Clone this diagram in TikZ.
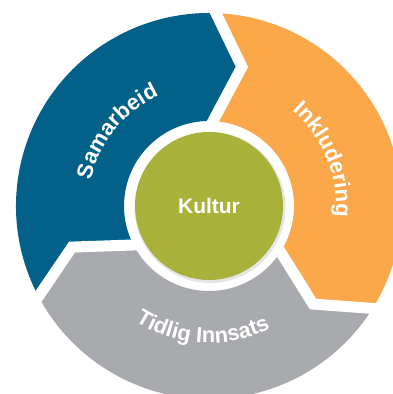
\documentclass[tikz,border=0pt]{standalone}
\usepackage{fontspec}
\setmainfont{Liberation Sans}
\usetikzlibrary{positioning,decorations.text}

\definecolor{sambla}{RGB}{3,97,137}
\definecolor{inkora}{RGB}{250,168,74}
\definecolor{tidgra}{RGB}{168,170,173}
\definecolor{kulgrn}{RGB}{169,177,59}

\begin{document}
\begin{tikzpicture}[x=1pt, y=1pt,
        gap/.style={draw=white, line width=11pt, line join=miter},
        ringtext/.style={decorate, decoration={text along path, text align=center, text color=white,
            text={|\bfseries\fontsize{22}{26}\selectfont|#1}}},
        kultur/.style={circle, fill=kulgrn, minimum size=148pt, inner sep=0pt, text=white,
            font=\bfseries\fontsize{21}{25}\selectfont}
    ]
    \useasboundingbox (0,0) rectangle (392,394);
    \coordinate (c) at (209,188);

    \begin{scope}[shift={(c)}]
    % Ring
    \fill[sambla] (209:193) arc[start angle=209, end angle=89, radius=193] -- (76.7:143)
        -- (89:85) arc[start angle=89, end angle=209, radius=85] -- (196.7:143) -- cycle;
    \fill[inkora] (89:193) arc[start angle=89, end angle=-31, radius=193] -- (-43.3:143)
        -- (-31:85) arc[start angle=-31, end angle=89, radius=85] -- (76.7:143) -- cycle;
    \fill[tidgra] (-31:193) arc[start angle=-31, end angle=-151, radius=193] -- (-163.3:143)
        -- (-151:85) arc[start angle=-151, end angle=-31, radius=85] -- (-43.3:143) -- cycle;

    % Gaps
    \draw[gap] (89:200) -- (76.7:143) -- (89:80);
    \draw[gap] (-31:200) -- (-43.3:143) -- (-31:80);
    \draw[gap] (209:200) -- (196.7:143) -- (209:80);

    % Labels
    \path[ringtext=Samarbeid] (176:121) arc[start angle=176, end angle=106, radius=121];
    \path[ringtext=Inkludering] (57:127) arc[start angle=57, end angle=-13, radius=127];
    \path[ringtext=Tidlig Innsats] (227:137) arc[start angle=227, end angle=307, radius=137];
    \end{scope}

    % Centre
    \fill[black!10] ([shift={(1,-1.5)}]c) circle (75.5);
    \node[kultur] (kultur) at (c) {Kultur};
\end{tikzpicture}
\end{document}
